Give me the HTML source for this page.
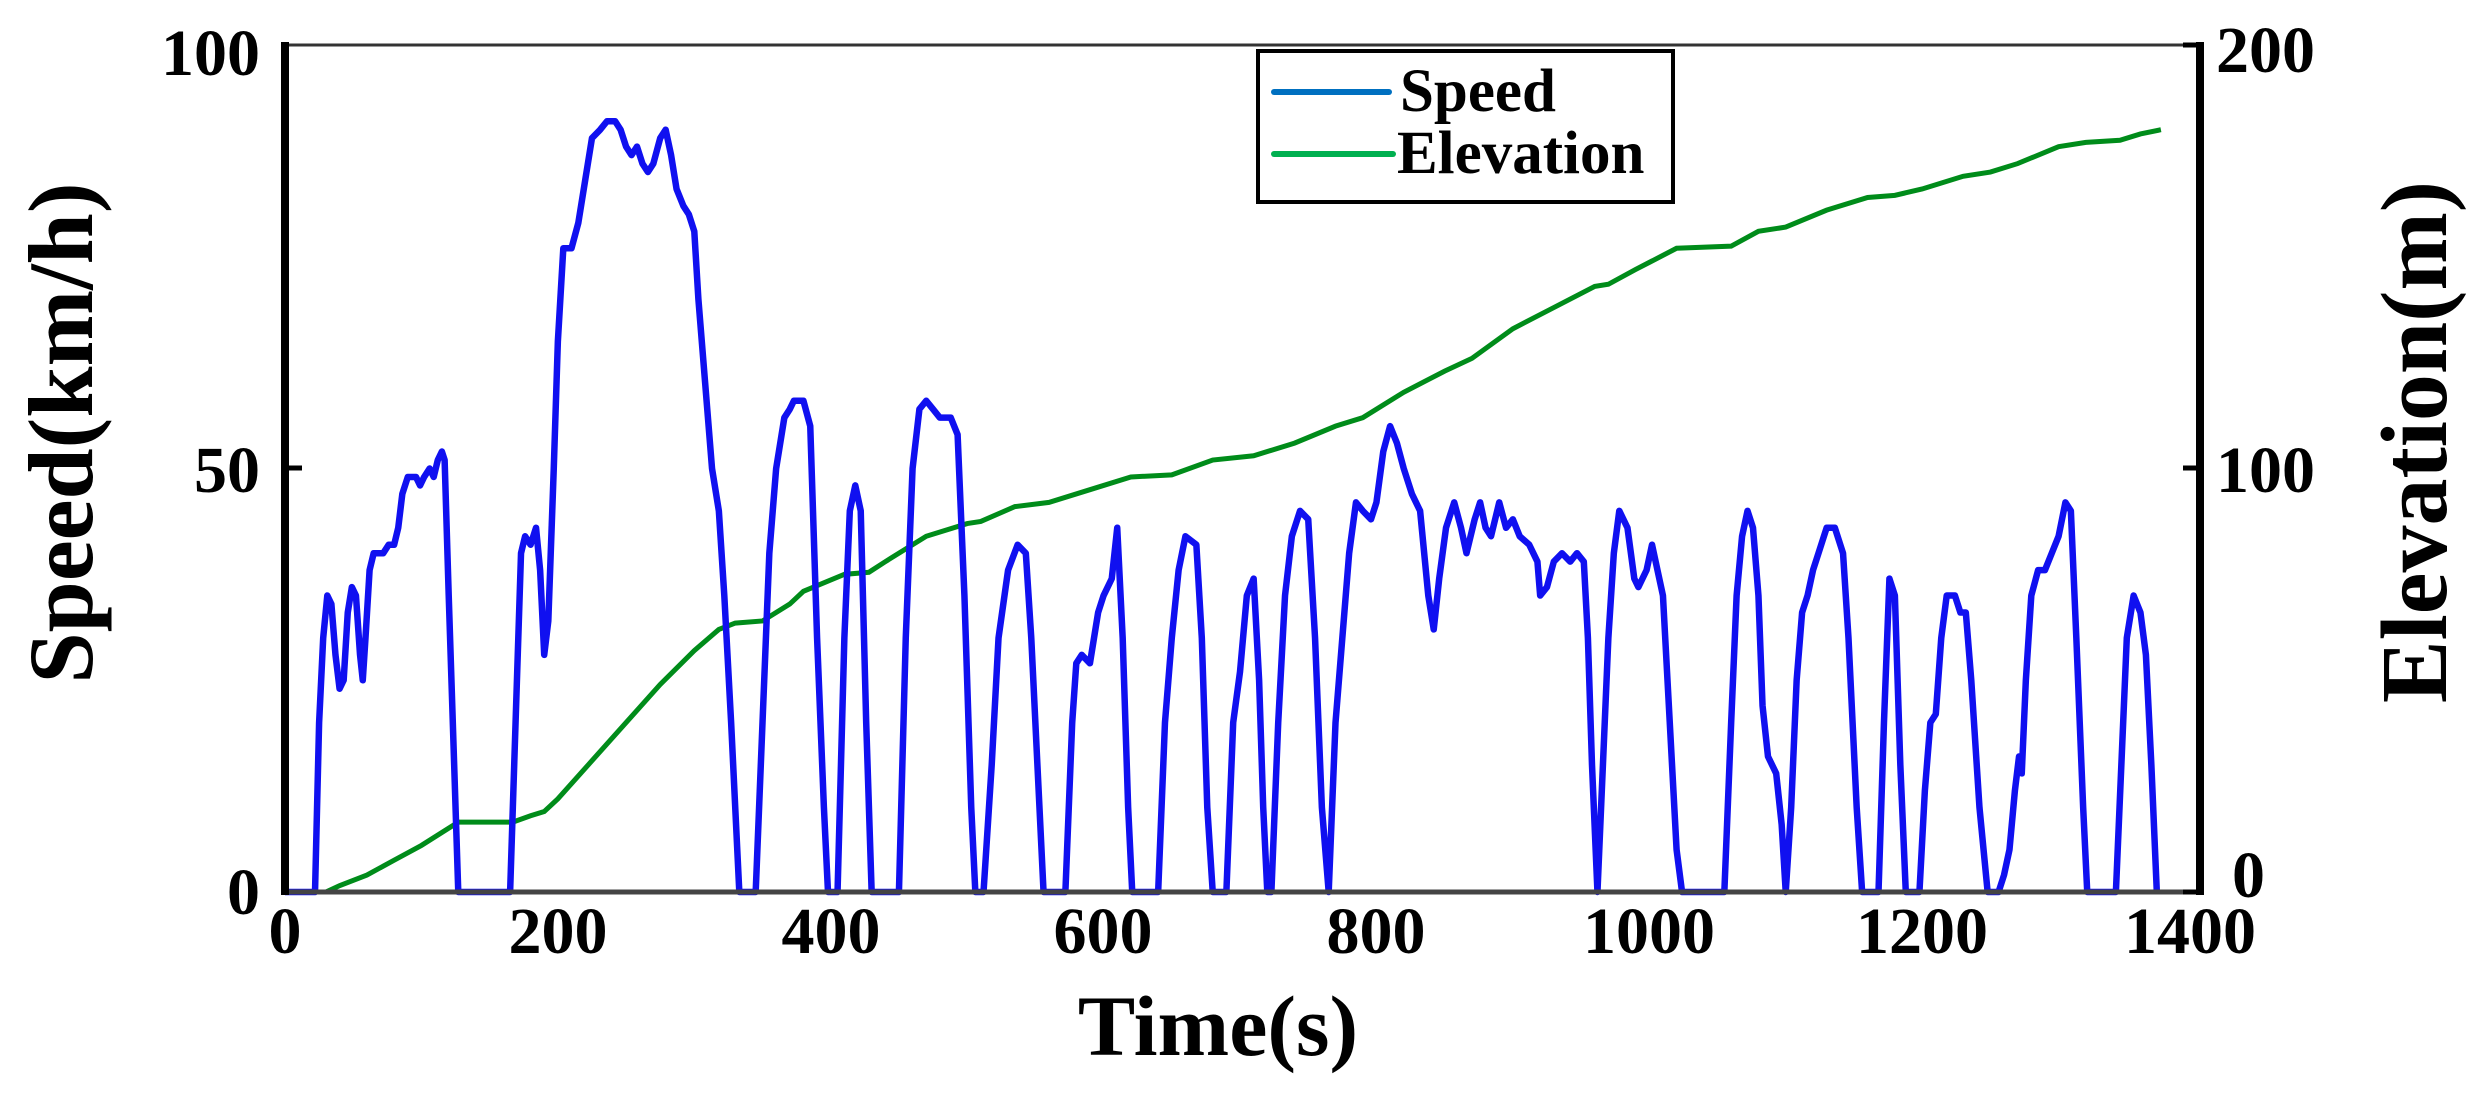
<!DOCTYPE html>
<html><head><meta charset="utf-8"><style>
html,body{margin:0;padding:0;background:#fff;}
svg{display:block;}
text{font-family:"Liberation Serif",serif;font-weight:bold;fill:#000;}
</style></head><body>
<svg width="2470" height="1095" viewBox="0 0 2470 1095" xmlns="http://www.w3.org/2000/svg">
<rect width="2470" height="1095" fill="#fff"/>
<g transform="translate(285,892)">
<g transform="scale(1.3643,-4.235)">
<polyline fill="none" stroke="#008c1a" vector-effect="non-scaling-stroke" style="stroke-width:5px" points="0,0 30,0 40,1.5 60,4 80,7.5 100,11 127,16.5 167,16.5 180,18 190,19 200,22 225,31 250,40 275,49 300,57 318,62 330,63.5 350,64 370,68 380,71 395,73 410,75 428,75.5 440,78 470,84 500,87 510,87.5 535,91 560,92 590,95 620,98 650,98.5 680,102 710,103 740,106 770,110 790,112 820,118 850,123 870,126 900,133 930,138 960,143 970,143.5 990,147 1020,152 1060,152.5 1080,156 1100,157 1130,161 1160,164 1180,164.5 1200,166 1230,169 1250,170 1270,172 1300,176 1320,177 1345,177.5 1360,179 1375,180"/>
</g>
<g transform="scale(1.3643,-8.47)">
<polyline fill="none" stroke="#1010f0" vector-effect="non-scaling-stroke" style="stroke-width:6.5px" stroke-linejoin="round" points="0,0 22,0 25,20 28,30 31,35 34,34 37,28 40,24 43,25 46,33 49,36 52,35 55,28 57,25 59,30 62,38 65,40 72,40 76,41 80,41 83,43 86,47 90,49 96,49 99,48 102,49 106,50 109,49 112,51 115,52 117,51 120,35 124,15 127,0 165,0 169,20 173,40 176,42 180,41 184,43 187,38 190,28 193,32 197,50 200,65 204,76 210,76 215,79 220,84 225,89 231,90 236,91 242,91 246,90 250,88 254,87 258,88 262,86 266,85 270,86 275,89 279,90 283,87 287,83 292,81 296,80 300,78 303,70 308,60 313,50 318,45 322,35 327,20 333,0 345,0 350,20 355,40 360,50 366,56 370,57 373,58 380,58 385,55 390,30 395,10 398,0 405,0 410,30 414,45 418,48 422,45 426,20 430,0 450,0 455,30 460,50 465,57 470,58 475,57 480,56 488,56 493,54 498,35 503,10 506,0 512,0 518,15 523,30 530,38 537,41 543,40 547,30 553,10 556,0 572,0 577,20 580,27 584,28 590,27 596,33 600,35 606,37 610,43 614,30 618,10 621,0 640,0 645,20 650,30 655,38 660,42 668,41 672,30 676,10 680,0 690,0 695,20 700,26 705,35 710,37 714,25 717,10 720,0 723,0 728,20 733,35 738,42 744,45 750,44 755,30 760,10 765,0 770,20 775,30 780,40 785,46 790,45 796,44 800,46 805,52 810,55 815,53 820,50 826,47 832,45 838,35 842,31 846,37 851,43 857,46 862,43 866,40 872,44 876,46 880,43 884,42 890,46 895,43 900,44 905,42 912,41 918,39 920,35 925,36 930,39 936,40 942,39 947,40 952,39 955,30 958,15 962,0 966,15 970,30 974,40 978,45 984,43 989,37 992,36 998,38 1002,41 1006,38 1010,35 1015,20 1020,5 1024,0 1055,0 1060,20 1064,35 1068,42 1072,45 1076,43 1080,35 1083,22 1087,16 1093,14 1097,8 1100,0 1104,10 1108,25 1112,33 1116,35 1120,38 1124,40 1130,43 1136,43 1142,40 1146,30 1152,10 1156,0 1168,0 1172,20 1176,37 1180,35 1184,15 1188,0 1198,0 1202,12 1206,20 1210,21 1214,30 1218,35 1224,35 1228,33 1232,33 1236,25 1242,10 1248,0 1256,0 1260,2 1264,5 1268,12 1271,16 1273,14 1276,25 1280,35 1285,38 1290,38 1295,40 1300,42 1305,46 1309,45 1313,30 1318,10 1321,0 1342,0 1346,15 1350,30 1355,35 1360,33 1364,28 1368,15 1372,0"/>
</g>
</g>
<line x1="285" y1="45" x2="2200" y2="45" stroke="#333" stroke-width="3"/>
<line x1="285" y1="892" x2="2200" y2="892" stroke="#444" stroke-width="5"/>
<line x1="285" y1="42" x2="285" y2="895" stroke="#000" stroke-width="8"/>
<line x1="2200" y1="42" x2="2200" y2="895" stroke="#000" stroke-width="8"/>
<line x1="285" y1="468" x2="302" y2="468" stroke="#000" stroke-width="5"/>
<line x1="2183" y1="468" x2="2200" y2="468" stroke="#000" stroke-width="5"/>
<line x1="2183" y1="45" x2="2200" y2="45" stroke="#000" stroke-width="5"/>
<line x1="2183" y1="892" x2="2200" y2="892" stroke="#000" stroke-width="5"/>
<rect x="1258" y="51" width="415" height="151" fill="#fff" stroke="#000" stroke-width="4"/>
<line x1="1274" y1="92" x2="1389" y2="92" stroke="#0070c0" stroke-width="6" stroke-linecap="round"/>
<line x1="1274" y1="154" x2="1393" y2="154" stroke="#00b050" stroke-width="6" stroke-linecap="round"/>
<text x="1400" y="111" font-size="61">Speed</text>
<text x="1397" y="173" font-size="61">Elevation</text>
<g font-size="66" text-anchor="end">
<text x="260" y="75">100</text>
<text x="260" y="492">50</text>
<text x="260" y="914">0</text>
</g>
<g font-size="66" text-anchor="start">
<text x="2216" y="72">200</text>
<text x="2216" y="492">100</text>
<text x="2232" y="897">0</text>
</g>
<g font-size="66" text-anchor="middle">
<text x="285" y="953">0</text>
<text x="558" y="953">200</text>
<text x="831" y="953">400</text>
<text x="1103" y="953">600</text>
<text x="1376" y="953">800</text>
<text x="1649" y="953">1000</text>
<text x="1922" y="953">1200</text>
<text x="2190" y="953">1400</text>
</g>
<text x="1218" y="1055" font-size="86" text-anchor="middle">Time(s)</text>
<text transform="translate(92,433) rotate(-90)" font-size="92" text-anchor="middle">Speed(km/h)</text>
<text transform="translate(2446,442) rotate(-90)" font-size="94" text-anchor="middle">Elevation(m)</text>
</svg>
</body></html>
